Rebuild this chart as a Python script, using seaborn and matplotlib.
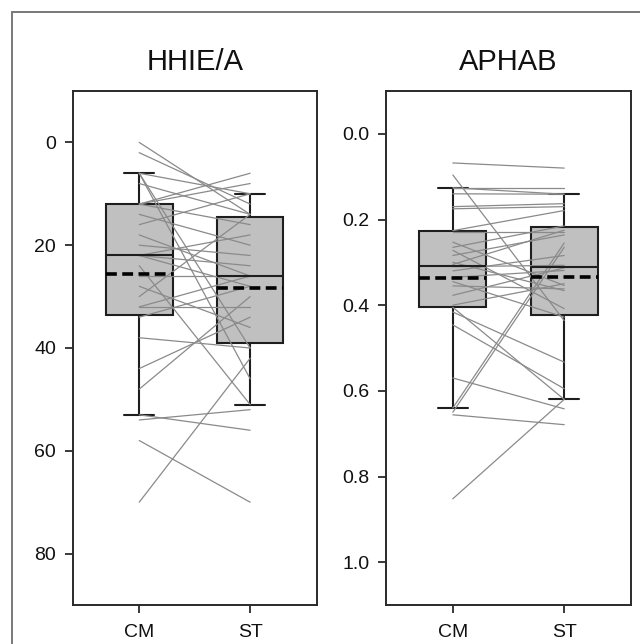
import numpy as np
import pandas as pd
import matplotlib
matplotlib.use("Agg")
import matplotlib.pyplot as plt
import seaborn as sns
from matplotlib.patches import Rectangle

# ---------------- data ----------------
conditions = ["CM", "ST"]
titles = ["HHIE/A", "APHAB"]

hhie_cm = [0, 2, 6, 6, 6, 8, 12, 12, 12, 14, 16, 18, 20, 22, 22, 22, 24, 26, 28, 30,
           32, 32, 34, 38, 44, 48, 53, 54, 58, 70]
hhie_st = [14, 12, 46, 40, 10, 14, 6, 8, 16, 20, 10, 26, 22, 18, 28, 24, 51, 26, 36, 14,
           32, 26, 28, 40, 34, 30, 56, 52, 70, 42]

aphab_cm = [0.068, 0.096, 0.126, 0.126, 0.14, 0.17, 0.175, 0.226, 0.23, 0.253,
            0.265, 0.272, 0.284, 0.30, 0.305, 0.31, 0.32, 0.335, 0.345, 0.355,
            0.377, 0.40, 0.405, 0.416, 0.446, 0.57, 0.64, 0.65, 0.656, 0.852]
aphab_st = [0.08, 0.436, 0.126, 0.141, 0.141, 0.163, 0.17, 0.179, 0.23, 0.354,
            0.215, 0.408, 0.236, 0.366, 0.225, 0.307, 0.284, 0.319, 0.428, 0.362,
            0.313, 0.35, 0.62, 0.533, 0.595, 0.642, 0.255, 0.265, 0.679, 0.62]

hhie_ticks = [0, 20, 40, 60, 80]
hhie_ticklabels = ["0", "20", "40", "60", "80"]
aphab_ticks = [0.0, 0.2, 0.4, 0.6, 0.8, 1.0]
aphab_ticklabels = ["0.0", "0.2", "0.4", "0.6", "0.8", "1.0"]
hhie_ylim = (90, -10)
aphab_ylim = (1.1, -0.1)


def long_frame(cm, st):
    n = len(cm)
    return pd.DataFrame({
        "subj": list(range(n)) * 2,
        "cond": [conditions[0]] * n + [conditions[1]] * n,
        "val": list(cm) + list(st),
    })


panels = [
    (titles[0], long_frame(hhie_cm, hhie_st), hhie_ticks, hhie_ticklabels, hhie_ylim),
    (titles[1], long_frame(aphab_cm, aphab_st), aphab_ticks, aphab_ticklabels, aphab_ylim),
]

# ---------------- style ----------------
sns.set_style("ticks")
plt.rcParams["font.family"] = ["Liberation Sans", "DejaVu Sans"]

fig = plt.figure(figsize=(6.4, 6.44), dpi=100)
W, H = 640, 644
ax_rects = [
    [72.7 / W, 1 - 605 / H, (316.7 - 72.7) / W, (605 - 91) / H],
    [386 / W, 1 - 605 / H, (631 - 386) / W, (605 - 91) / H],
]

edge = "#1e1e1e"
for rect, (title, df, ticks, ticklabels, ylim) in zip(ax_rects, panels):
    ax = fig.add_axes(rect)
    sns.boxplot(
        data=df, x="cond", y="val", order=conditions, ax=ax,
        width=0.6, whis=(10, 90), showfliers=False,
        color="#c0c0c0", saturation=1, linecolor=edge, linewidth=1.5,
        showmeans=True, meanline=True,
        meanprops=dict(linestyle=(0, (3.0, 1.5)), color="black", linewidth=2.6, zorder=4),
        medianprops=dict(color=edge, linewidth=1.5, zorder=4),
        capwidths=0.27,
    )
    sns.lineplot(
        data=df, x="cond", y="val", units="subj", estimator=None,
        color="#8a8a8a", linewidth=0.9, ax=ax, legend=False, zorder=3,
    )
    ax.set_xlim(-0.6, 1.6)
    ax.set_ylim(*ylim)
    ax.set_yticks(ticks)
    ax.set_yticklabels(ticklabels)
    ax.set_xticks([0, 1])
    ax.set_xticklabels(conditions)
    ax.set_xlabel("")
    ax.set_ylabel("")
    ax.set_title(title, fontsize=21, pad=15, color="#111111")
    for s in ax.spines.values():
        s.set_visible(True)
        s.set_linewidth(1.4)
        s.set_color("#2a2a2a")
    ax.tick_params(axis="both", direction="out", length=6, width=1.3,
                   color="#2a2a2a", labelsize=14, labelcolor="#111111")
    ax.tick_params(axis="y", pad=6)
    ax.tick_params(axis="x", pad=8)
    ax.grid(False)

# outer frame (partially cropped in the original)
fig.patches.append(Rectangle((11.5 / W, -0.1), 1.2, 1 - 11.5 / H + 0.1,
                             transform=fig.transFigure, fill=False,
                             edgecolor="#6e6e6e", linewidth=1.3))

fig.savefig("out.png", dpi=100)
